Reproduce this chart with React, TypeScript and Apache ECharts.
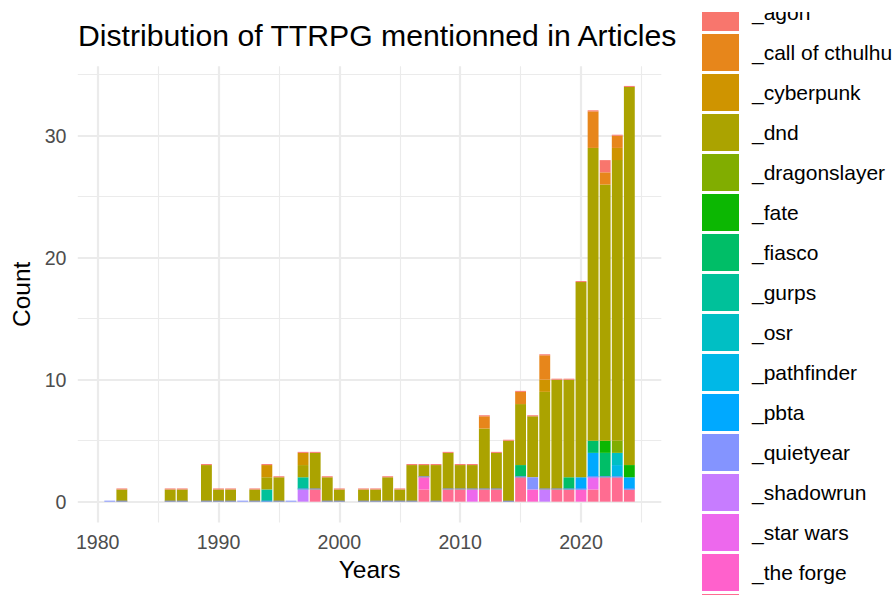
import React, { useEffect, useRef } from "react";
import * as echarts from "echarts";

type Pair = [number, number];

const X_MAJOR = [1980, 1990, 2000, 2010, 2020];
const X_MINOR = [1985, 1995, 2005, 2015, 2025];
const Y_MAJOR = [0, 10, 20, 30];
const Y_MINOR = [5, 15, 25, 35];

const SYSTEMS = [
  "_agon", "_call of cthulhu", "_cyberpunk", "_dnd", "_dragonslayer", "_fate", "_fiasco", "_gurps",
  "_osr", "_pathfinder", "_pbta", "_quietyear", "_shadowrun", "_star wars", "_the forge", "_vampire",
];

const COLORS = [
  "#F8766D", "#E7861B", "#CF9400", "#ABA300", "#81AD00", "#0CB702", "#00BE67", "#00C19A",
  "#00BFC4", "#00B8E7", "#00A9FF", "#8494FF", "#C77CFF", "#ED68ED", "#FF61CC", "#FF6C91",
];

// [year, count]
const AGON: Pair[] = [
  [1982, 0], [1986, 0], [1987, 0], [1989, 0], [1990, 0], [1991, 0], [1993, 0], [1994, 0], [1995, 0],
  [1997, 0], [1998, 0], [1999, 0], [2000, 0], [2002, 0], [2003, 0], [2004, 0], [2005, 0], [2006, 0],
  [2007, 0], [2008, 0], [2009, 0], [2010, 0], [2011, 0], [2012, 0], [2013, 0], [2014, 0], [2015, 0],
  [2016, 0], [2017, 0], [2018, 0], [2019, 0], [2020, 0], [2021, 0], [2022, 1], [2023, 0], [2024, 0],
];
const CTHULHU: Pair[] = [[2012, 1], [2015, 1], [2017, 2], [2021, 3], [2022, 1], [2023, 1]];
const CYBERPUNK: Pair[] = [[1994, 1], [1997, 1], [2017, 1], [2023, 1]];
const DND: Pair[] = [
  [1982, 1], [1986, 1], [1987, 1], [1989, 3], [1990, 1], [1991, 1], [1993, 1], [1994, 1], [1995, 2],
  [1997, 1], [1998, 3], [1999, 2], [2000, 1], [2002, 1], [2003, 1], [2004, 2], [2005, 1], [2006, 3],
  [2007, 1], [2008, 3], [2009, 3], [2010, 2], [2011, 2], [2012, 5], [2013, 3], [2014, 5], [2015, 5],
  [2016, 5], [2017, 8], [2018, 9], [2019, 8], [2020, 16], [2021, 24], [2022, 21], [2023, 23], [2024, 31],
];
const DRAGONSLAYER: Pair[] = [[2023, 1]];
const FATE: Pair[] = [[2022, 1], [2024, 1]];
const FIASCO: Pair[] = [[2015, 1], [2019, 1], [2021, 1], [2022, 2]];
const GURPS: Pair[] = [[1994, 1], [1997, 1]];
const OSR: Pair[] = [[2023, 1]];
const PATHFINDER: Pair[] = [[2023, 1]];
const PBTA: Pair[] = [[2020, 1], [2021, 2], [2024, 1]];
const QUIETYEAR: Pair[] = [
  [1981, 0], [1982, 0], [1986, 0], [1987, 0], [1989, 0], [1990, 0], [1991, 0], [1992, 0], [1993, 0],
  [1994, 0], [1995, 0], [1996, 0], [1997, 0], [1998, 0], [1999, 0], [2000, 0], [2002, 0], [2003, 0],
  [2004, 0], [2005, 0], [2006, 0], [2007, 0], [2008, 0], [2009, 0], [2010, 0], [2011, 0], [2012, 0],
  [2013, 0], [2014, 0], [2015, 0], [2016, 1], [2017, 0], [2018, 0], [2019, 0], [2020, 0], [2021, 0],
  [2022, 0], [2023, 0], [2024, 0],
];
const SHADOWRUN: Pair[] = [[1997, 1], [2017, 1]];
const STAR_WARS: Pair[] = [[2011, 1], [2021, 1]];
const THE_FORGE: Pair[] = [[2007, 1], [2016, 1], [2020, 1]];
const VAMPIRE: Pair[] = [
  [1998, 1], [2007, 1], [2009, 1], [2010, 1], [2012, 1], [2013, 1], [2015, 2], [2018, 1], [2019, 1],
  [2021, 1], [2022, 2], [2023, 2], [2024, 1],
];

const COUNTS: Pair[][] = [
  AGON, CTHULHU, CYBERPUNK, DND, DRAGONSLAYER, FATE, FIASCO, GURPS,
  OSR, PATHFINDER, PBTA, QUIETYEAR, SHADOWRUN, STAR_WARS, THE_FORGE, VAMPIRE,
];

const FONT = "'Liberation Sans', Arial, Helvetica, sans-serif";
const BAR_FRACTION = 0.9;

export default function App() {
  const ref = useRef<HTMLDivElement>(null);

  useEffect(() => {
    document.body.style.margin = "0";
    if (!ref.current) return;
    const chart = echarts.init(ref.current, undefined, { renderer: "svg" });

    // stack from the last level (bottom) up to the first level (top), like ggplot
    const running = new Map<number, number>();
    const barSeries: any[] = [];
    for (let i = SYSTEMS.length - 1; i >= 0; i--) {
      const data = COUNTS[i].map(([year, count]) => {
        const base = running.get(year) ?? 0;
        running.set(year, base + count);
        return [year, base, base + count];
      });
      const color = COLORS[i];
      const sliver = COUNTS[i].some(([, c]) => c === 0);
      barSeries.push({
        type: "custom",
        name: SYSTEMS[i],
        z: sliver ? 3 : 2,
        itemStyle: { color },
        encode: { x: 0, y: [1, 2] },
        data,
        renderItem: (_params: any, api: any) => {
          const x = api.value(0) as number;
          const lo = api.value(1) as number;
          const hi = api.value(2) as number;
          const pTop = api.coord([x - BAR_FRACTION / 2, hi]);
          const pBot = api.coord([x + BAR_FRACTION / 2, lo]);
          let y = pTop[1];
          let h = pBot[1] - pTop[1];
          if (h < 1) {
            h = 1;
            y = pBot[1] - 1;
          }
          return {
            type: "rect",
            shape: { x: pTop[0], y, width: pBot[0] - pTop[0], height: h },
            style: { fill: color },
          };
        },
      });
    }

    const grid = (v: number, major: boolean, axis: "x" | "y") => ({
      [axis === "x" ? "xAxis" : "yAxis"]: v,
      lineStyle: { color: "#EBEBEB", width: major ? 2.2 : 1.1, type: "solid" },
    });

    const gridSeries = {
      type: "line",
      name: "grid",
      data: [],
      silent: true,
      markLine: {
        silent: true,
        z: 1,
        symbol: ["none", "none"],
        label: { show: false },
        emphasis: { disabled: true },
        data: [
          ...Y_MINOR.map((v) => grid(v, false, "y")),
          ...X_MINOR.map((v) => grid(v, false, "x")),
          ...Y_MAJOR.map((v) => grid(v, true, "y")),
          ...X_MAJOR.map((v) => grid(v, true, "x")),
        ],
      },
    };

    chart.setOption({
      animation: false,
      textStyle: { fontFamily: FONT },
      title: {
        text: "Distribution of TTRPG mentionned in Articles",
        left: 78,
        top: 20.5,
        padding: 0,
        textStyle: { fontSize: 30.2, fontWeight: "normal", color: "#000", fontFamily: FONT },
      },
      legend: {
        orient: "vertical",
        left: 702,
        top: -6,
        height: 700,
        padding: 0,
        itemWidth: 37,
        itemHeight: 37,
        itemGap: 3,
        icon: "rect",
        selectedMode: false,
        data: SYSTEMS,
        textStyle: { fontSize: 21, color: "#000", fontFamily: FONT, padding: [0, 0, 0, 8] },
      },
      grid: {
        left: 77.8,
        top: 66.2,
        width: 583.5,
        height: 456.2,
        containLabel: false,
        outerBoundsMode: "none",
      },
      xAxis: {
        type: "value",
        min: 1978.355,
        max: 2026.645,
        name: "Years",
        nameLocation: "middle",
        nameGap: 34,
        nameTextStyle: { fontSize: 24.5, color: "#000", fontFamily: FONT },
        axisLine: { show: false, onZero: false },
        axisTick: { show: false },
        splitLine: { show: false },
        axisLabel: {
          customValues: X_MAJOR,
          formatter: (v: number) => String(v),
          fontSize: 19.6,
          color: "#4D4D4D",
          margin: 10,
          fontFamily: FONT,
        },
      },
      yAxis: {
        type: "value",
        min: -1.7,
        max: 35.7,
        name: "Count",
        nameLocation: "middle",
        nameGap: 40,
        nameTextStyle: { fontSize: 24.5, color: "#000", fontFamily: FONT },
        axisLine: { show: false },
        axisTick: { show: false },
        splitLine: { show: false },
        axisLabel: {
          customValues: Y_MAJOR,
          formatter: (v: number) => String(v),
          fontSize: 19.6,
          color: "#4D4D4D",
          margin: 11.3,
          fontFamily: FONT,
        },
      },
      graphic: [
        {
          type: "rect",
          left: 690,
          top: 0,
          z: 100,
          shape: { width: 206, height: 12 },
          style: { fill: "#FFFFFF" },
          silent: true,
        },
      ],
      series: [gridSeries, ...barSeries],
    });

    return () => chart.dispose();
  }, []);

  return <div ref={ref} style={{ width: 896, height: 595 }} />;
}
